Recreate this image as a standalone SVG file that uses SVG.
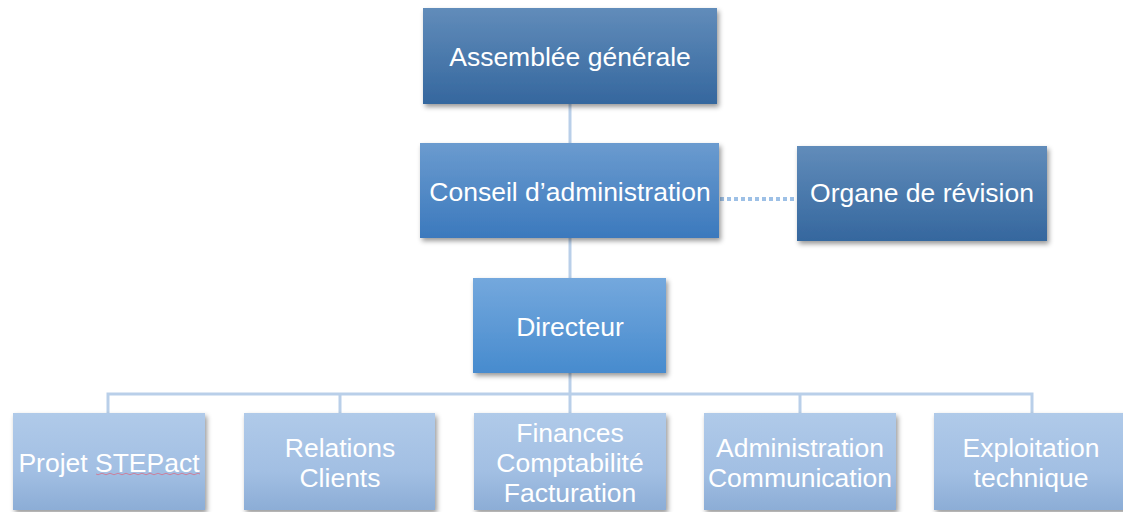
<svg xmlns="http://www.w3.org/2000/svg" width="1123" height="512" viewBox="0 0 1123 512">
<defs>
<linearGradient id="gDark" x1="0" y1="0" x2="0" y2="1"><stop offset="0" stop-color="#618cba"/><stop offset="1" stop-color="#35679e"/></linearGradient>
<linearGradient id="gMid" x1="0" y1="0" x2="0" y2="1"><stop offset="0" stop-color="#6b9bcf"/><stop offset="1" stop-color="#3b79bd"/></linearGradient>
<linearGradient id="gDir" x1="0" y1="0" x2="0" y2="1"><stop offset="0" stop-color="#74a8dd"/><stop offset="1" stop-color="#478bce"/></linearGradient>
<linearGradient id="gLight" x1="0" y1="0" x2="0" y2="1"><stop offset="0" stop-color="#b0cae9"/><stop offset="0.6" stop-color="#a2bfe3"/><stop offset="1" stop-color="#8cadd6"/></linearGradient>
<filter id="sh" x="-10%" y="-10%" width="125%" height="130%"><feDropShadow dx="2" dy="3" stdDeviation="2.5" flood-color="#000" flood-opacity="0.4"/></filter>
<style>
.t{font-family:"Liberation Sans",Arial,sans-serif;font-size:26.5px;fill:#ffffff;text-anchor:middle}
.c{fill:none;stroke:#b9cfe9;stroke-width:3}
</style>
</defs>
<g id="connectors">
<path class="c" stroke="#9fbde0" d="M570 104V143M570 238V278"/>
<path class="c" d="M570 373V394M108 413V394H1032V413M340 394V413M570 394V413M800 394V413"/>
<line x1="720" y1="199" x2="796" y2="199" stroke="#9dc0e6" stroke-width="4" stroke-dasharray="4 3"/>
</g>
<g id="assemblee"><rect x="423" y="8" width="294" height="96" fill="url(#gDark)" filter="url(#sh)"/><text class="t" x="570" y="66">Assemblée générale</text></g>
<g id="conseil"><rect x="420" y="143" width="299" height="95" fill="url(#gMid)" filter="url(#sh)"/><text class="t" x="570" y="201">Conseil d’administration</text></g>
<g id="organe"><rect x="797" y="146" width="250" height="95" fill="url(#gDark)" filter="url(#sh)"/><text class="t" x="922" y="202">Organe de révision</text></g>
<g id="directeur"><rect x="473" y="278" width="193" height="95" fill="url(#gDir)" filter="url(#sh)"/><text class="t" x="570" y="336">Directeur</text></g>
<g id="projet"><rect x="13" y="413" width="192" height="97" fill="url(#gLight)" filter="url(#sh)"/><text class="t" x="109" y="472">Projet STEPact</text><path d="M96 474q2 1.5 4 0t4 0t4 0t4 0t4 0t4 0t4 0t4 0t4 0t4 0t4 0t4 0t4 0t4 0t4 0t4 0t4 0t4 0t4 0t4 0t4 0t4 0t4 0t4 0t4 0t4 0" fill="none" stroke="#d6708a" stroke-width="0.8"/></g>
<g id="relations"><rect x="244" y="413" width="191" height="97" fill="url(#gLight)" filter="url(#sh)"/><text class="t" x="340" y="457">Relations</text><text class="t" x="340" y="487">Clients</text></g>
<g id="finances"><rect x="474" y="413" width="192" height="97" fill="url(#gLight)" filter="url(#sh)"/><text class="t" x="570" y="442">Finances</text><text class="t" x="570" y="472">Comptabilité</text><text class="t" x="570" y="502">Facturation</text></g>
<g id="admin"><rect x="704" y="413" width="192" height="97" fill="url(#gLight)" filter="url(#sh)"/><text class="t" x="800" y="457">Administration</text><text class="t" x="800" y="487">Communication</text></g>
<g id="exploitation"><rect x="934" y="413" width="194" height="97" fill="url(#gLight)" filter="url(#sh)"/><text class="t" x="1031" y="457">Exploitation</text><text class="t" x="1031" y="487">technique</text></g>
</svg>
